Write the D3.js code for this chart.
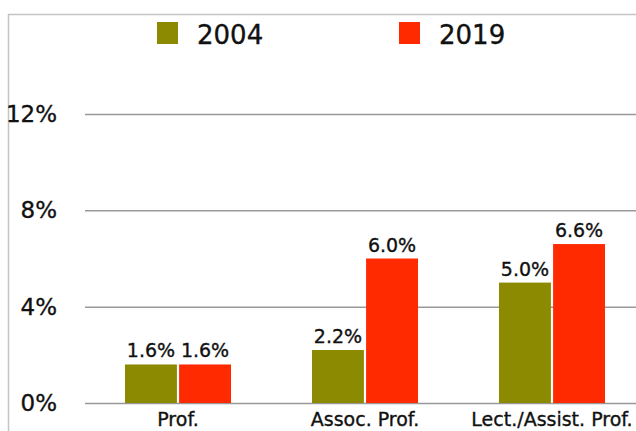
<!DOCTYPE html>
<html>
<head>
<meta charset="utf-8">
<script src="https://cdn.jsdelivr.net/npm/d3@7"></script>
<style>
  body { margin: 0; background: #fff; }
  svg { display: block; font-family: "DejaVu Sans", sans-serif; }
  text { stroke: #111; stroke-width: 0.35; }
</style>
</head>
<body>
<div id="chart"></div>
<script>
var categories = ["Prof.", "Assoc. Prof.", "Lect./Assist. Prof."];
var years = ["2004", "2019"];
var values2004 = [1.6, 2.2, 5.0];
var values2019 = [1.6, 6.0, 6.6];
var yTicks = [0, 4, 8, 12];
var colors = ["#8c8a00", "#ff2a00"];

var width = 636, height = 431;

var svg = d3.select("#chart").append("svg")
    .attr("width", width)
    .attr("height", height);

// frame
svg.append("path")
    .attr("d", "M8.5,431V14.5H636")
    .attr("fill", "none")
    .attr("stroke", "#c4c4c4")
    .attr("stroke-width", 1.5);

var x = d3.scaleBand()
    .domain(categories)
    .range([84.5, 645.5])
    .paddingInner(0.433)
    .paddingOuter(0.2165);

var xSub = d3.scaleBand()
    .domain(years)
    .range([0, x.bandwidth()])
    .paddingInner(0.04);

var y = d3.scaleLinear()
    .domain([0, 12])
    .range([403, 114]);

var color = d3.scaleOrdinal().domain(years).range(colors);

// grid + tick labels
var yAxis = svg.append("g")
    .attr("transform", "translate(85,0)")
    .call(d3.axisLeft(y).tickValues(yTicks).tickSize(-(width - 85)).tickPadding(28).tickFormat(function(d){ return d + "%"; }));
yAxis.select(".domain").remove();
yAxis.selectAll(".tick line").attr("stroke", "#999").attr("stroke-width", 1.5);
yAxis.selectAll(".tick text")
    .attr("fill", "#111")
    .attr("font-size", 23)
    .attr("font-family", "DejaVu Sans, sans-serif");

var rows = categories.map(function(c, i){
  return { cat: c, vals: [ { year: "2004", v: values2004[i] }, { year: "2019", v: values2019[i] } ] };
});

var groups = svg.selectAll("g.grp")
    .data(rows)
  .enter().append("g")
    .attr("class", "grp")
    .attr("transform", function(d){ return "translate(" + x(d.cat) + ",0)"; });

groups.selectAll("rect")
    .data(function(d){ return d.vals; })
  .enter().append("rect")
    .attr("x", function(d){ return xSub(d.year); })
    .attr("y", function(d){ return y(d.v); })
    .attr("width", xSub.bandwidth())
    .attr("height", function(d){ return y(0) - y(d.v); })
    .attr("fill", function(d){ return color(d.year); });

groups.selectAll("text.val")
    .data(function(d){ return d.vals; })
  .enter().append("text")
    .attr("class", "val")
    .attr("x", function(d){ return xSub(d.year) + xSub.bandwidth() / 2; })
    .attr("y", function(d){ return y(d.v) - 7; })
    .attr("text-anchor", "middle")
    .attr("font-size", 19)
    .attr("fill", "#111")
    .text(function(d){ return d.v.toFixed(1) + "%"; });

// category labels
svg.selectAll("text.cat")
    .data(categories)
  .enter().append("text")
    .attr("class", "cat")
    .attr("x", function(d){ return x(d) + x.bandwidth() / 2; })
    .attr("y", 426)
    .attr("text-anchor", "middle")
    .attr("font-size", 19)
    .attr("fill", "#111")
    .text(function(d){ return d; });

// legend
var legendX = [157, 399];
var legend = svg.selectAll("g.leg")
    .data(years)
  .enter().append("g")
    .attr("class", "leg")
    .attr("transform", function(d, i){ return "translate(" + legendX[i] + ",22)"; });
legend.append("rect")
    .attr("width", 21).attr("height", 22)
    .attr("fill", function(d){ return color(d); });
legend.append("text")
    .attr("x", 40).attr("y", 22)
    .attr("font-size", 26)
    .attr("fill", "#111")
    .text(function(d){ return d; });
</script>
</body>
</html>
